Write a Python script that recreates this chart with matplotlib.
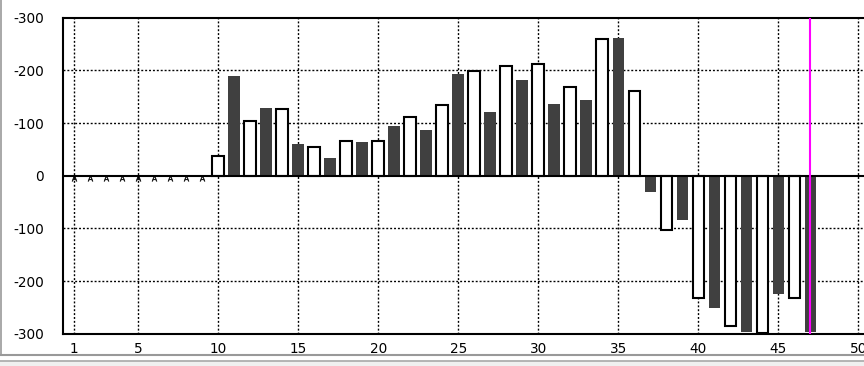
import numpy as np
import matplotlib
matplotlib.use('Agg')
import matplotlib.pyplot as plt
from matplotlib.patches import Rectangle
from matplotlib.lines import Line2D

# bar values (x = 10 .. 47)
days = list(range(10, 48))
values = [38, 189, 103, 128, 126, 60, 54, 34, 65, 64,
          65, 94, 111, 87, 134, 193, 198, 121, 209, 182,
          213, 136, 168, 144, 259, 261, 160, -31, -103, -84,
          -232, -251, -285, -297, -298, -225, -232, -297]
empty_days = list(range(1, 10))
xticks = [1, 5, 10, 15, 20, 25, 30, 35, 40, 45, 50]
yticks = [300, 200, 100, 0, -100, -200, -300]
ytick_labels = ['-300', '-200', '-100', '0', '-100', '-200', '-300']
marker_day = 47

W, H = 864, 366
fig = plt.figure(figsize=(W / 100, H / 100), dpi=100)
ax = fig.add_axes([63.3 / W, (H - 333.7) / H, (W - 63.3) / W, 316 / H])

x0 = 0.33
ax.set_xlim(x0, x0 + (W - 63.3) / 16.007)
ax.set_ylim(-300, 300)

dark = [d % 2 == 1 for d in days]
colors = ['#404040' if d else 'white' for d in dark]
edges = ['#404040' if d else 'black' for d in dark]
lws = [0 if d else 1.5 for d in dark]
ax.bar(days, values, width=0.72, color=colors, edgecolor=edges,
       linewidth=lws, zorder=3)

ax.plot(empty_days, [-5] * len(empty_days), linestyle='none',
        marker=r'$\mathrm{A}$', markersize=4, markeredgewidth=0.3,
        color='black', zorder=4)

ax.axhline(0, color='black', lw=1.5, zorder=4)
ax.axvline(marker_day, color='#ff00ff', lw=1.5, zorder=5)

for v in [-200, -100, 100, 200]:
    ax.axhline(v, color='black', lw=1.0, linestyle=(0, (1.4, 1.4)), zorder=1)
for v in xticks:
    ax.axvline(v, color='black', lw=1.0, linestyle=(0, (1.4, 1.4)), zorder=1)

ax.set_xticks(xticks)
ax.set_xticklabels([str(t) for t in xticks], fontsize=9.8)
ax.set_yticks(yticks)
ax.set_yticklabels(ytick_labels, fontsize=9.8)
ax.tick_params(axis='x', length=0, pad=6)
ax.tick_params(axis='y', length=0, pad=14)

for s in ['top', 'bottom', 'left']:
    ax.spines[s].set_linewidth(1.5)
ax.spines['right'].set_visible(False)

# window chrome around the chart
fig.add_artist(Rectangle((0, 0), 1, 5 / H, transform=fig.transFigure,
                         color='#f0f0f0', lw=0))
fig.add_artist(Line2D([0, 1], [(H - 354.5) / H] * 2, transform=fig.transFigure,
                      color='#999999', lw=1.5))
fig.add_artist(Line2D([0, 1], [(H - 360.5) / H] * 2, transform=fig.transFigure,
                      color='#a8a8a8', lw=1.2))
fig.add_artist(Line2D([0.5 / W] * 2, [(H - 354) / H, 1], transform=fig.transFigure,
                      color='#999999', lw=1.2))

fig.savefig('out.png', dpi=100)
